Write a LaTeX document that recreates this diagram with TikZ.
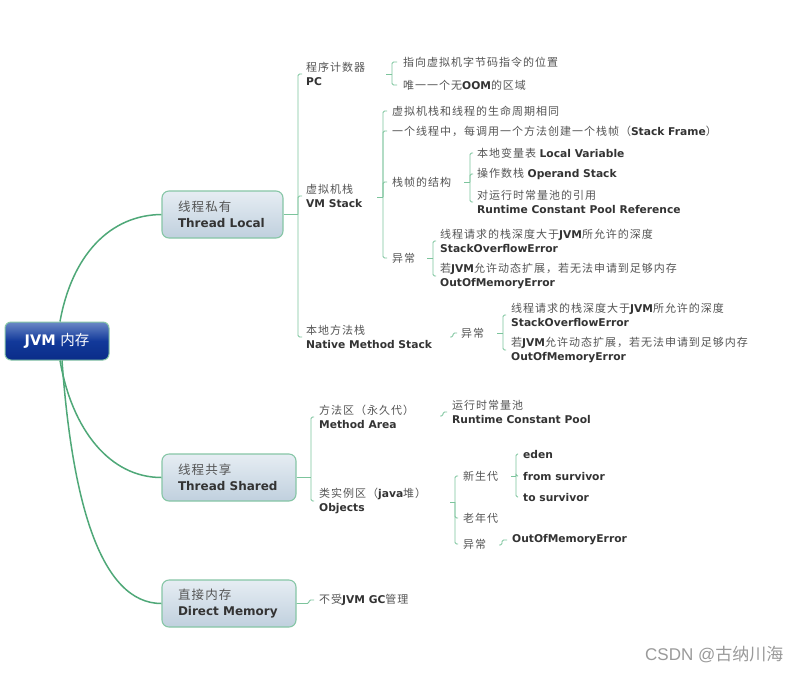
\documentclass[tikz,border=0pt]{standalone}
\usepackage{fontspec}
\setmainfont{DejaVu Sans}
\newfontfamily\cjk[LetterSpace=9]{Noto Sans CJK SC}
\newfontfamily\cjkplain{Noto Sans CJK SC}
\newfontfamily\wmfont{Liberation Sans}
\definecolor{zhc}{HTML}{555555}
\definecolor{enc}{HTML}{333333}
\definecolor{conc}{HTML}{4FA878}
\definecolor{brc}{HTML}{7CC49C}
\definecolor{boxb}{HTML}{86C6A6}
\definecolor{boxt}{HTML}{E6EDF3}
\definecolor{boxbot}{HTML}{C0D0DE}
\definecolor{roott}{HTML}{6A88C6}
\definecolor{rootm}{HTML}{12399A}
\definecolor{rootb}{HTML}{0A2C88}
\definecolor{wmc}{HTML}{9A9A9A}
\newcommand\zhT[1]{{\cjk\color{zhc}#1}}
\newcommand\enT[1]{{\fontsize{10.7}{14}\selectfont\bfseries\color{enc}#1}}
\newcommand\zhB[1]{{\fontsize{12.5}{16}\selectfont\cjk\color{zhc}#1}}
\newcommand\enB[1]{{\fontsize{12}{16}\selectfont\bfseries\color{enc}#1}}
\tikzset{
  conn/.style={draw=conc, line width=1.5pt},
  br/.style={draw=brc, line width=0.9pt, rounded corners=1.5pt},
  txt/.style={anchor=west, inner sep=0pt, align=left, font=\fontsize{11}{14}\selectfont},
  lvlbox/.style={rounded corners=7pt, draw=boxb, line width=1.1pt, top color=boxt, bottom color=boxbot,
    minimum height=47pt, inner xsep=16pt, inner ysep=0pt, align=left, text width=#1,
    font=\fontsize{12.5}{16}\selectfont},
  rootbox/.style={rounded corners=6pt, draw=boxb, line width=1pt, top color=roott, bottom color=rootb,
    middle color=rootm, minimum width=104pt, minimum height=38pt, inner sep=0pt}
}
\begin{document}
\begin{tikzpicture}[x=1pt,y=-1pt]
\fill[white] (0,0) rectangle (797,673);
\useasboundingbox (0,0) rectangle (797,673);

% root and level-1 boxes
\node[rootbox] (root) at (57,341) {\fontsize{14.5}{16}\selectfont\color{white}\textbf{JVM} {\cjkplain 内存}};
\node[lvlbox=89pt] (TL) at (222.5,214.5) {\zhB{线程私有}\\\enB{Thread Local}};
\node[lvlbox=102pt] (TS) at (229,477.5) {\zhB{线程共享}\\\enB{Thread Shared}};
\node[lvlbox=102pt] (DM) at (229,603.5) {\zhB{直接内存}\\\enB{Direct Memory}};

\draw[conn] ([xshift=3pt]root.north) .. controls (72,255) and (110,215) .. (TL.west);
\draw[conn] ([xshift=3pt]root.south) .. controls (72,430) and (110,477.5) .. (TS.west);
\draw[conn] ([xshift=5pt]root.south) .. controls (72,500) and (100,603.5) .. (DM.west);

% Thread Local group
\node[txt] (pc) at (306,74) {\zhT{程序计数器}\\\enT{PC}};
\node[txt] (vm) at (306,196) {\zhT{虚拟机栈}\\\enT{VM Stack}};
\node[txt] (nms) at (306,337) {\zhT{本地方法栈}\\\enT{Native Method Stack}};
\coordinate (tlj) at (298,214.5);
\draw[br] (TL.east) -- (tlj);
\draw[br] ([xshift=-4pt]pc.west) -| (tlj);
\draw[br] ([xshift=-4pt]vm.west) -| (tlj);
\draw[br] ([xshift=-4pt]nms.west) -| (tlj);

% PC children
\node[txt] (pc1) at (403,62) {\zhT{指向虚拟机字节码指令的位置}};
\node[txt] (pc2) at (403,85) {\zhT{唯一一个无}\enT{OOM}\zhT{的区域}};
\coordinate (pcj) at (386,74);
\coordinate (pcb) at (392,74);
\draw[br] (pcj) -- (pcb);
\draw[br] ([xshift=-6pt]pc1.west) -| (pcb);
\draw[br] ([xshift=-6pt]pc2.west) -| (pcb);

% VM Stack children
\node[txt] (vm1) at (392,111) {\zhT{虚拟机栈和线程的生命周期相同}};
\node[txt] (vm2) at (392,131) {\zhT{一个线程中，每调用一个方法创建一个栈帧（}\enT{Stack Frame}\zhT{）}};
\node[txt] (vm3) at (392,182) {\zhT{栈帧的结构}};
\node[txt] (vm4) at (392,258) {\zhT{异常}};
\coordinate (vmj) at (377,197);
\coordinate (vmb) at (383,197);
\draw[br] (vmj) -- (vmb);
\draw[br] ([xshift=-5pt]vm1.west) -| (vmb);
\draw[br] ([xshift=-5pt]vm2.west) -| (vmb);
\draw[br] ([xshift=-5pt]vm3.west) -| (vmb);
\draw[br] ([xshift=-5pt]vm4.west) -| (vmb);

% Frame structure children
\node[txt] (f1) at (477,153) {\zhT{本地变量表} \enT{Local Variable}};
\node[txt] (f2) at (477,174) {\zhT{操作数栈} \enT{Operand Stack}};
\node[txt] (f3) at (477,202) {\zhT{对运行时常量池的引用}\\\enT{Runtime Constant Pool Reference}};
\coordinate (frj) at (464,182);
\coordinate (frb) at (470,182);
\draw[br] (frj) -- (frb);
\draw[br] ([xshift=-4pt]f1.west) -| (frb);
\draw[br] ([xshift=-4pt]f2.west) -| (frb);
\draw[br] ([xshift=-4pt]f3.west) -| (frb);

% VM exceptions
\node[txt] (e1) at (440,241) {\zhT{线程请求的栈深度大于}\enT{JVM}\zhT{所允许的深度}\\\enT{StackOverflowError}};
\node[txt] (e2) at (440,276) {\zhT{若}\enT{JVM}\zhT{允许动态扩展，若无法申请到足够内存}\\\enT{OutOfMemoryError}};
\coordinate (exj) at (427,258);
\coordinate (exb) at (433,258);
\draw[br] (exj) -- (exb);
\draw[br] ([xshift=-4pt]e1.west) -| (exb);
\draw[br] ([xshift=-4pt]e2.west) -| (exb);

% Native method stack
\node[txt] (nmse) at (461,333) {\zhT{异常}};
\coordinate (nmsj) at (450,337);
\draw[br] (nmsj) -- ++(3,0) |- ([xshift=-4pt]nmse.west);
\node[txt] (n1) at (511,315) {\zhT{线程请求的栈深度大于}\enT{JVM}\zhT{所允许的深度}\\\enT{StackOverflowError}};
\node[txt] (n2) at (511,350) {\zhT{若}\enT{JVM}\zhT{允许动态扩展，若无法申请到足够内存}\\\enT{OutOfMemoryError}};
\coordinate (nej) at (497,333);
\coordinate (neb) at (503,333);
\draw[br] (nej) -- (neb);
\draw[br] ([xshift=-5pt]n1.west) -| (neb);
\draw[br] ([xshift=-5pt]n2.west) -| (neb);

% Thread Shared group
\node[txt] (ma) at (319,417) {\zhT{方法区（永久代）}\\\enT{Method Area}};
\node[txt] (obj) at (319,501) {\zhT{类实例区（}\enT{java}\zhT{堆）}\\\enT{Objects}};
\coordinate (tsj) at (311,477.5);
\draw[br] (TS.east) -- (tsj);
\draw[br] ([xshift=-5pt]ma.west) -| (tsj);
\draw[br] ([xshift=-5pt]obj.west) -| (tsj);

\node[txt] (rcp) at (452,412) {\zhT{运行时常量池}\\\enT{Runtime Constant Pool}};
\coordinate (maj) at (440,416);
\draw[br] (maj) -- ++(3,0) |- ([xshift=-5pt]rcp.west);

\node[txt] (yg) at (463,476) {\zhT{新生代}};
\node[txt] (og) at (463,518) {\zhT{老年代}};
\node[txt] (oe) at (463,544) {\zhT{异常}};
\coordinate (obj j) at (450,502);
\coordinate (objb) at (455,502);
\draw[br] (obj j) -- (objb);
\draw[br] ([xshift=-5pt]yg.west) -| (objb);
\draw[br] ([xshift=-5pt]og.west) -| (objb);
\draw[br] ([xshift=-5pt]oe.west) -| (objb);

\node[txt] (eden) at (523,454) {\enT{eden}};
\node[txt] (fsv) at (523,476) {\enT{from survivor}};
\node[txt] (tsv) at (523,497) {\enT{to survivor}};
\coordinate (ygj) at (511,476);
\coordinate (ygb) at (516,476);
\draw[br] (ygj) -- (ygb);
\draw[br] ([xshift=-5pt]eden.west) -| (ygb);
\draw[br] ([xshift=-5pt]fsv.west) -| (ygb);
\draw[br] ([xshift=-5pt]tsv.west) -| (ygb);

\node[txt] (oom) at (512,540) {\enT{OutOfMemoryError}};
\coordinate (oej) at (499,545);
\draw[br] (oej) -- ++(3,0) |- ([xshift=-5pt]oom.west);

% Direct Memory
\node[txt] (dmt) at (319,600) {\zhT{不受}\enT{JVM GC}\zhT{管理}};
\draw[br] (DM.east) -- (309,603.5) |- ([xshift=-5pt]dmt.west);

% watermark
\node[anchor=west, inner sep=0pt, text=wmc, font=\fontsize{17}{19}\selectfont] (wm) at (645,655) {\wmfont CSDN @{\cjkplain 古纳川海}};
\end{tikzpicture}
\end{document}
